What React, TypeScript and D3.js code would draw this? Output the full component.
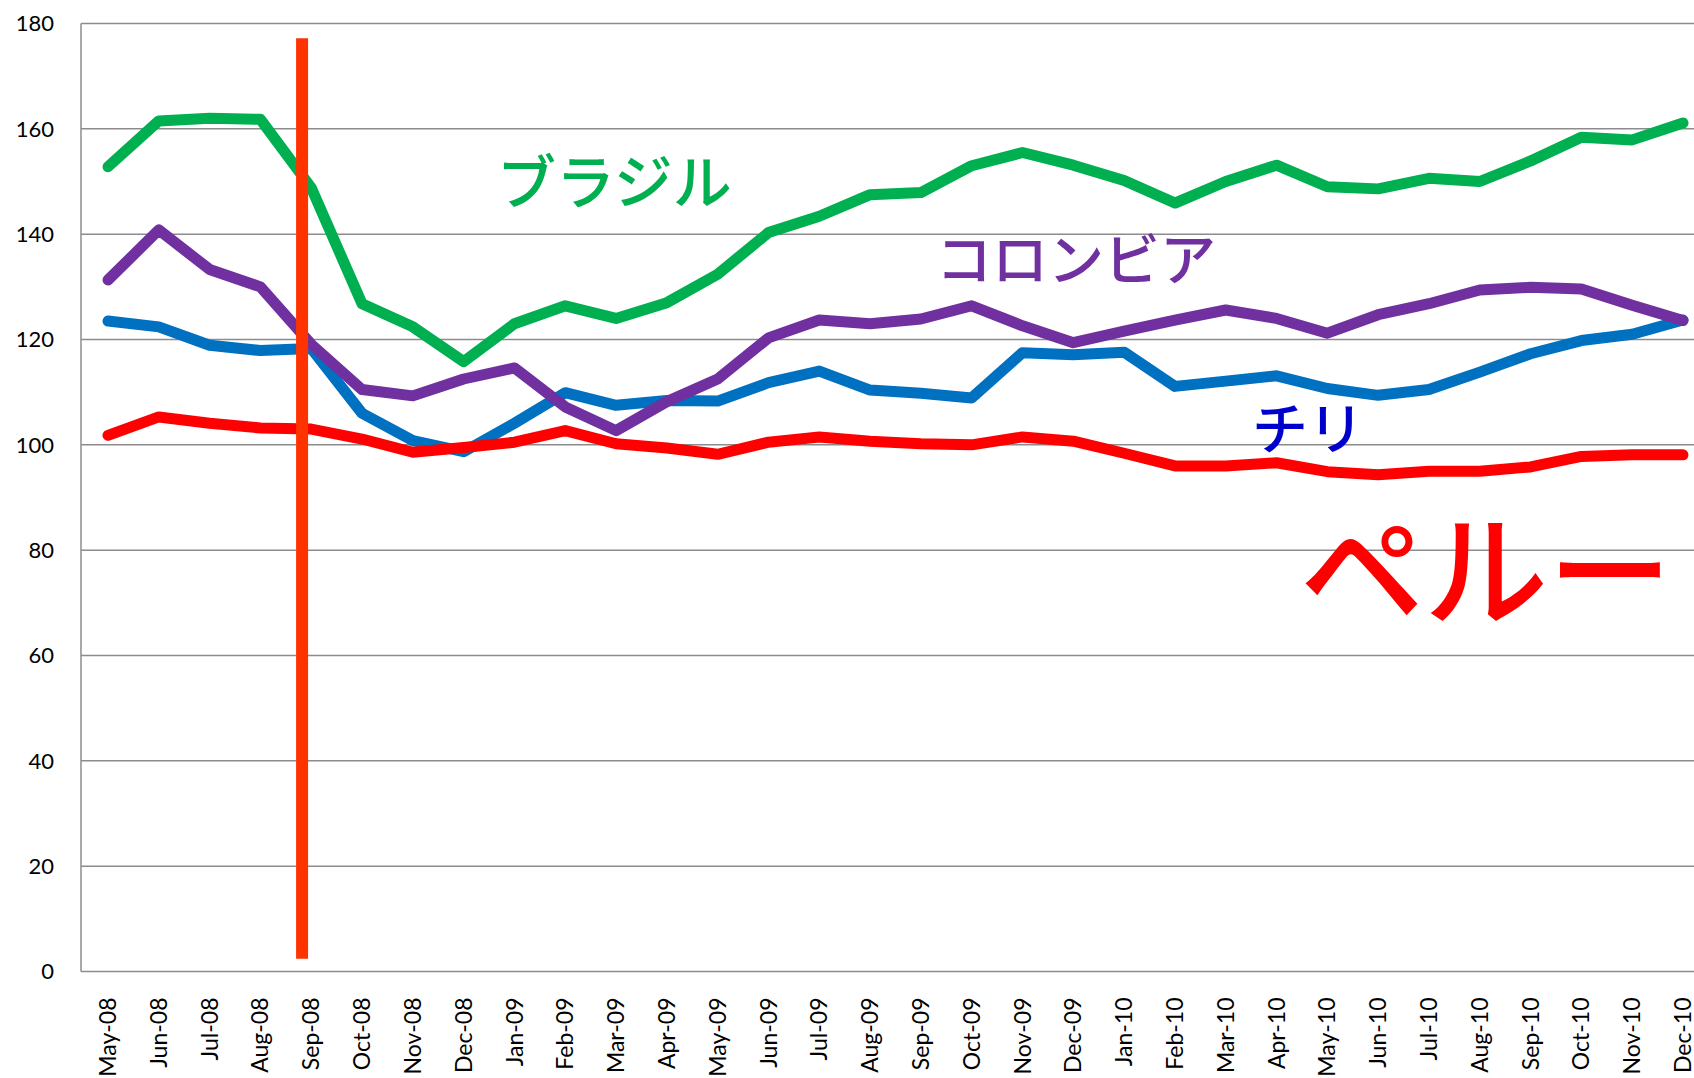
import React, { useEffect, useRef } from 'react';
import * as d3 from 'd3';

const months = [
  'May-08', 'Jun-08', 'Jul-08', 'Aug-08', 'Sep-08', 'Oct-08', 'Nov-08', 'Dec-08',
  'Jan-09', 'Feb-09', 'Mar-09', 'Apr-09', 'May-09', 'Jun-09', 'Jul-09', 'Aug-09',
  'Sep-09', 'Oct-09', 'Nov-09', 'Dec-09', 'Jan-10', 'Feb-10', 'Mar-10', 'Apr-10',
  'May-10', 'Jun-10', 'Jul-10', 'Aug-10', 'Sep-10', 'Oct-10', 'Nov-10', 'Dec-10',
];

const brazil = [
  152.8, 161.5, 162, 161.8, 148.8, 126.8, 122.4, 115.8,
  123, 126.4, 124, 127, 132.4, 140.3, 143.4, 147.5,
  147.9, 153, 155.5, 153.1, 150.2, 145.9, 150, 153.1,
  149, 148.6, 150.6, 150, 153.9, 158.4, 157.9, 161.1,
];

const colombia = [
  131.3, 140.8, 133.3, 130, 119.1, 110.5, 109.3, 112.5,
  114.6, 107.2, 102.7, 108.2, 112.5, 120.3, 123.7, 123,
  123.9, 126.4, 122.6, 119.4, 121.6, 123.7, 125.6, 124,
  121.2, 124.7, 126.8, 129.4, 129.9, 129.6, 126.5, 123.6,
];

const chile = [
  123.5, 122.4, 118.9, 117.9, 118.3, 106, 100.8, 98.7,
  104.1, 109.9, 107.5, 108.4, 108.3, 111.8, 114, 110.4,
  109.8, 108.9, 117.5, 117.1, 117.6, 111.1, 112.1, 113.1,
  110.7, 109.4, 110.5, 113.8, 117.3, 119.8, 121, 123.7,
];

const peru = [
  101.8, 105.3, 104.1, 103.2, 103, 101.1, 98.6, 99.5,
  100.5, 102.7, 100.2, 99.4, 98.2, 100.5, 101.5, 100.7,
  100.2, 100, 101.5, 100.7, 98.4, 96, 96, 96.6,
  94.9, 94.3, 95, 95, 95.8, 97.8, 98.1, 98.1,
];

const yTicks = [0, 20, 40, 60, 80, 100, 120, 140, 160, 180];

const seriesList = [
  { name: 'チリ', values: chile, color: '#0070C0' },
  { name: 'コロンビア', values: colombia, color: '#7030A0' },
  { name: 'ブラジル', values: brazil, color: '#00B050' },
  { name: 'ペルー', values: peru, color: '#FF0000' },
];

// annotation labels (pixel positions)
const labels = [
  { text: 'ブラジル', x: 497, y: 204, size: 59, color: '#00B050' },
  { text: 'コロンビア', x: 936, y: 280, size: 56, color: '#7030A0' },
  { text: 'チリ', x: 1252, y: 449, size: 56, color: '#0000CC' },
  { text: 'ペルー', x: 1300, y: 617, size: 124, color: '#FF0000' },
];

// vertical marker, in data units
const marker = { at: 3.82, from: 2.4, to: 177.2 };

const width = 1694;
const height = 1078;
const axisLeft = 81;
const axisBottom = 971.5;
const axisTop = 23.5;

export default function App() {
  const ref = useRef<SVGSVGElement>(null);

  useEffect(() => {
    const svg = d3.select(ref.current);
    svg.selectAll('*').remove();

    const x = d3.scaleLinear().domain([0, months.length - 1]).range([108, 1683]);
    const y = d3.scaleLinear().domain([0, 180]).range([axisBottom, axisTop]);

    // gridlines
    svg
      .append('g')
      .selectAll('line')
      .data(yTicks.filter((d) => d > 0))
      .join('line')
      .attr('x1', axisLeft)
      .attr('x2', width)
      .attr('y1', (d) => y(d))
      .attr('y2', (d) => y(d))
      .attr('stroke', '#8c8c8c')
      .attr('stroke-width', 1.5);

    // axis lines
    svg
      .append('line')
      .attr('x1', axisLeft)
      .attr('x2', axisLeft)
      .attr('y1', y(180))
      .attr('y2', axisBottom)
      .attr('stroke', '#8c8c8c')
      .attr('stroke-width', 1.5);
    svg
      .append('line')
      .attr('x1', axisLeft)
      .attr('x2', width)
      .attr('y1', axisBottom)
      .attr('y2', axisBottom)
      .attr('stroke', '#8c8c8c')
      .attr('stroke-width', 1.5);

    // y tick labels
    svg
      .append('g')
      .selectAll('text')
      .data(yTicks)
      .join('text')
      .attr('x', 54)
      .attr('y', (d) => y(d))
      .attr('dy', '0.35em')
      .attr('text-anchor', 'end')
      .style('font-family', 'Lato, "Noto Sans", sans-serif')
      .style('font-size', '22px')
      .attr('fill', '#000')
      .text((d) => d);

    // x tick labels
    svg
      .append('g')
      .selectAll('text')
      .data(months)
      .join('text')
      .attr('transform', (d, i) => `translate(${x(i)},${axisBottom + 26}) rotate(-90)`)
      .attr('dy', '0.35em')
      .attr('text-anchor', 'end')
      .style('font-family', 'Lato, "Noto Sans", sans-serif')
      .style('font-size', '23px')
      .attr('fill', '#000')
      .text((d) => d);

    // series lines
    const line = d3
      .line<number>()
      .x((d, i) => x(i))
      .y((d) => y(d));

    svg
      .append('g')
      .selectAll('path')
      .data(seriesList)
      .join('path')
      .attr('d', (s) => line(s.values))
      .attr('fill', 'none')
      .attr('stroke', (s) => s.color)
      .attr('stroke-width', 11)
      .attr('stroke-linecap', 'round')
      .attr('stroke-linejoin', 'round');

    // vertical marker
    svg
      .append('line')
      .attr('x1', x(marker.at))
      .attr('x2', x(marker.at))
      .attr('y1', y(marker.to))
      .attr('y2', y(marker.from))
      .attr('stroke', '#FF3300')
      .attr('stroke-width', 12);

    // labels
    svg
      .append('g')
      .selectAll('text')
      .data(labels)
      .join('text')
      .attr('x', (d) => d.x)
      .attr('y', (d) => d.y)
      .attr('fill', (d) => d.color)
      .style('font-family', '"Noto Sans CJK JP", sans-serif')
      .style('font-weight', 500)
      .style('font-size', (d) => `${d.size}px`)
      .text((d) => d.text);
  }, []);

  return (
    <>
      <style>{'body{margin:0;overflow:hidden;background:#fff}'}</style>
      <svg ref={ref} width={width} height={height} style={{ display: 'block' }} />
    </>
  );
}
